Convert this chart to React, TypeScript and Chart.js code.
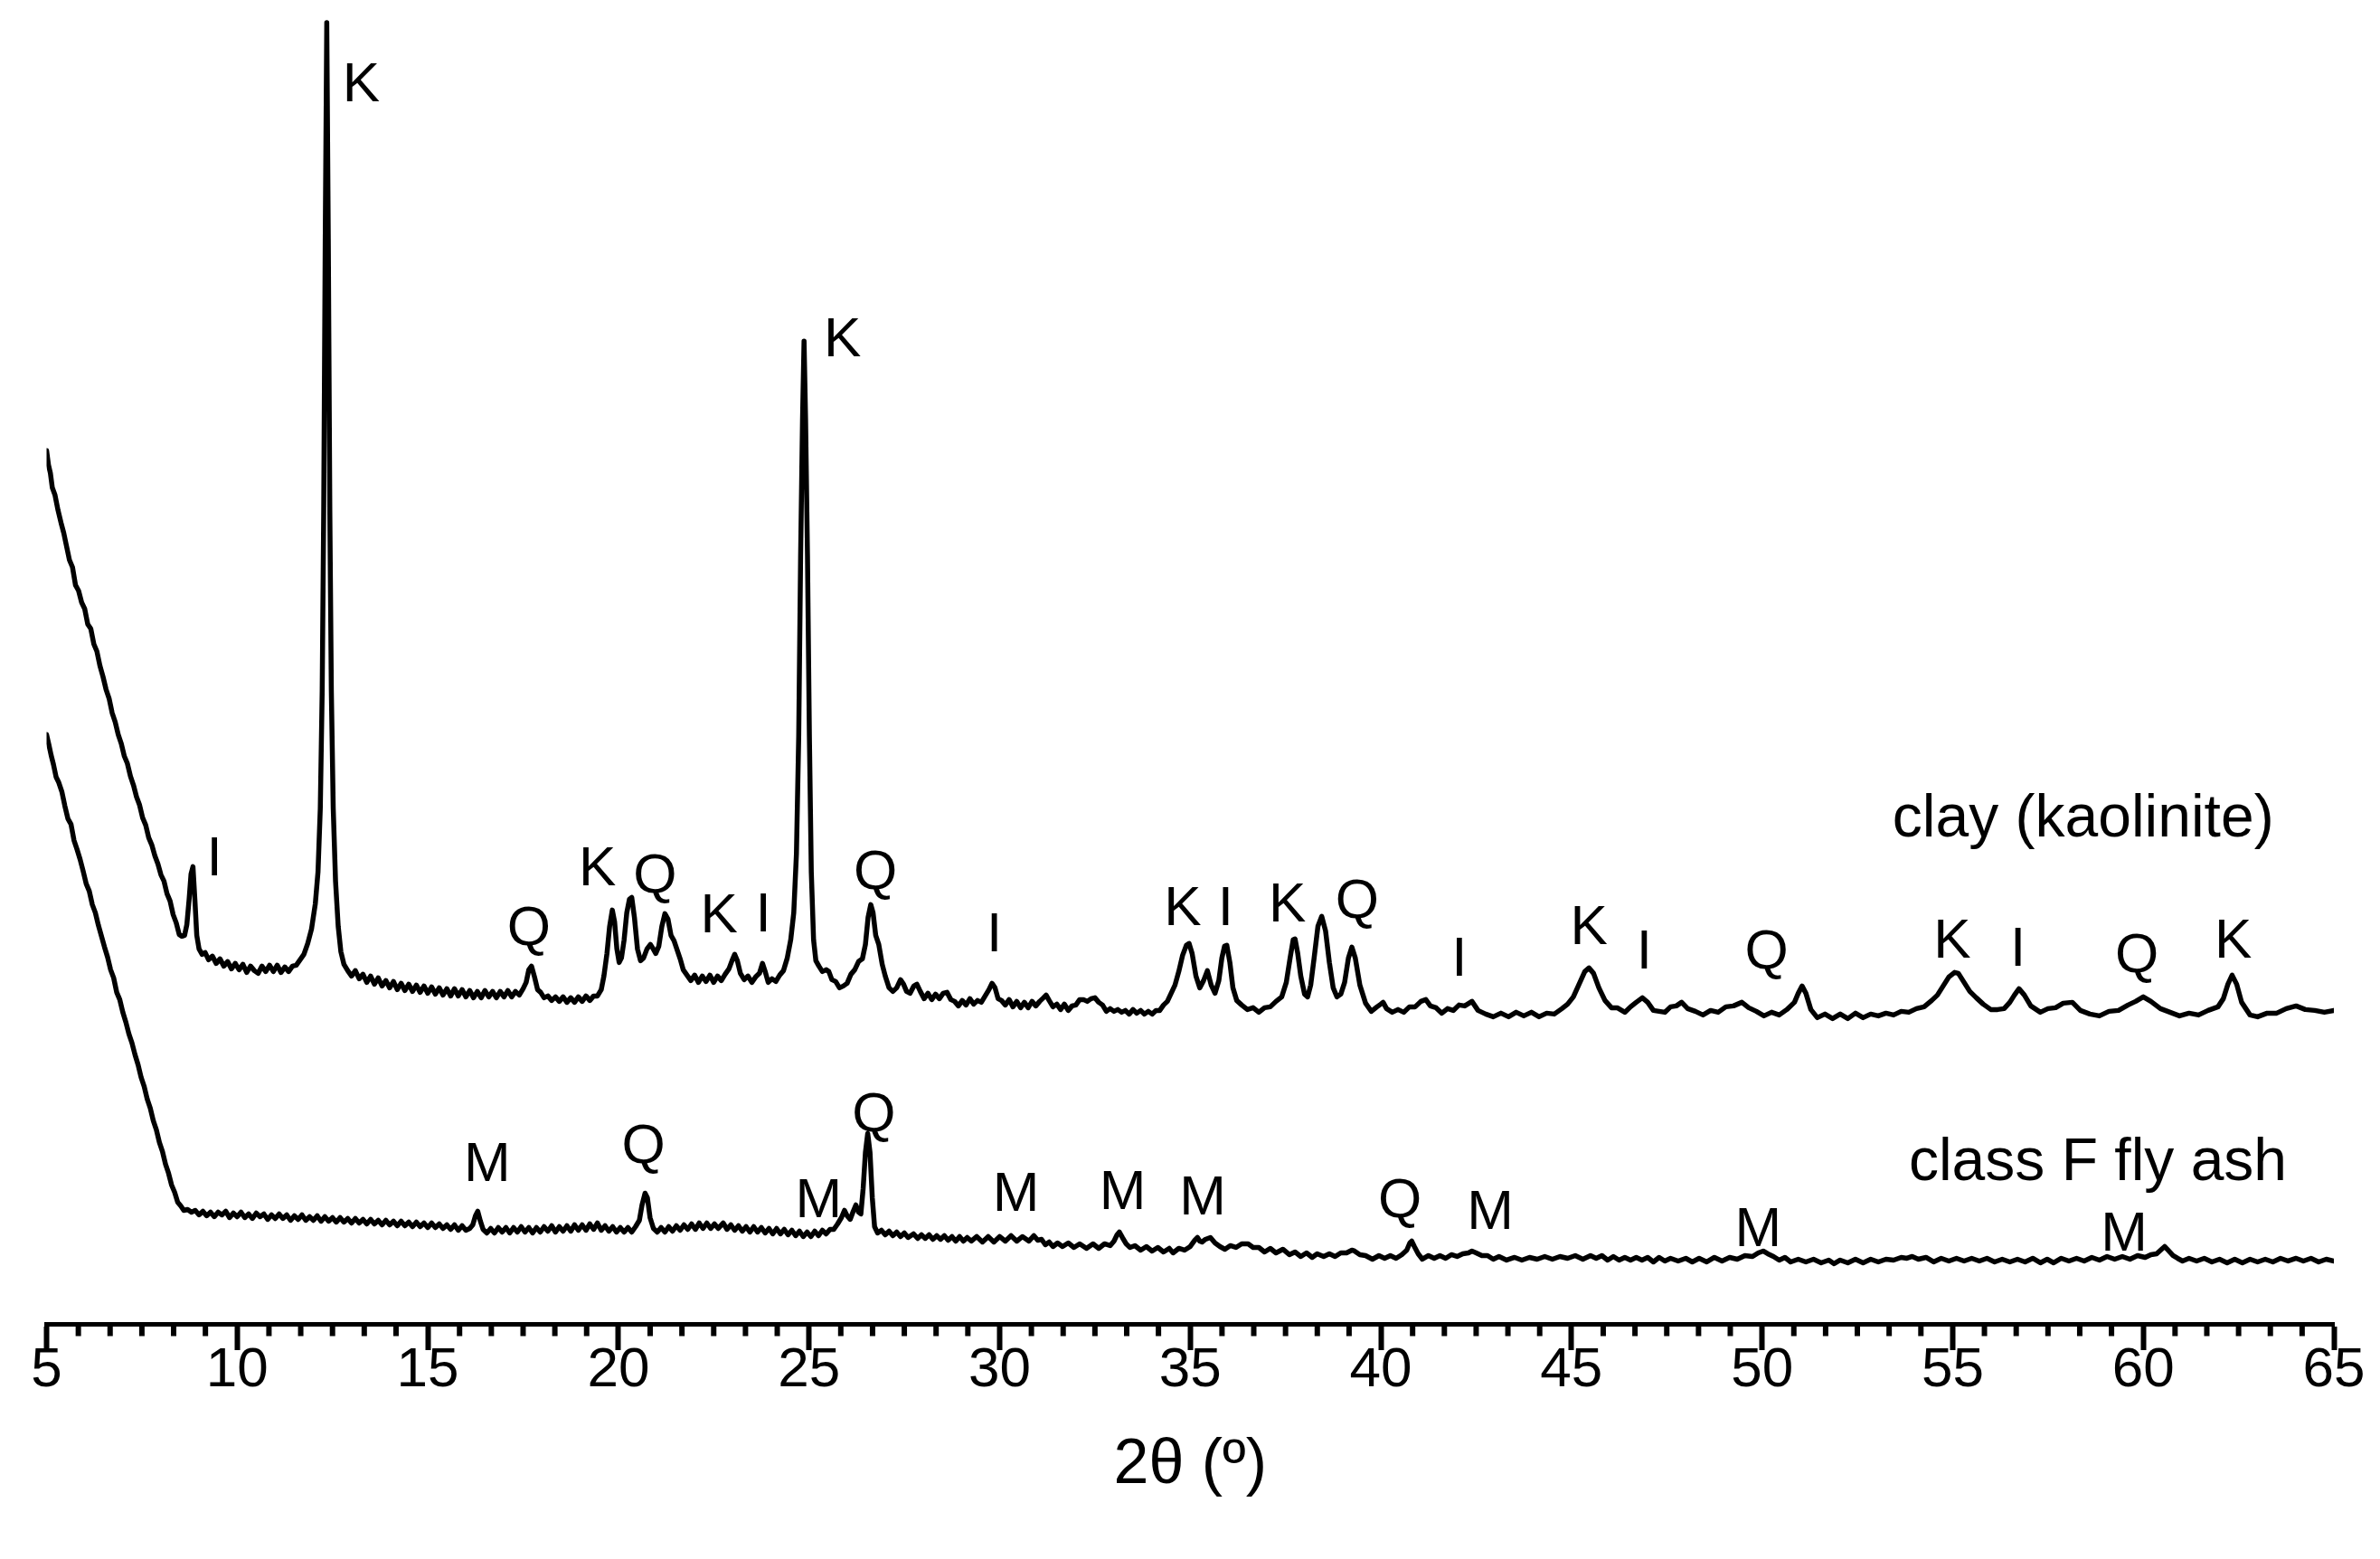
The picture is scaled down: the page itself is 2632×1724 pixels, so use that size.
import React, { useEffect, useRef } from "react";
import { Chart, registerables } from "chart.js";

Chart.register(...registerables);

const FONT = '"Liberation Sans", Arial, Helvetica, sans-serif';
const NARROW_FONT = '"Liberation Sans Narrow", "Arial Narrow", "Liberation Sans", Arial, sans-serif';

// [2θ (deg), intensity (a.u.)]
const clayScan: [number, number][] = [
  [5.0, 966], [5.05, 950], [5.1, 941], [5.15, 925], [5.22, 917], [5.3, 900], [5.38, 886], [5.45, 875],
  [5.52, 861], [5.6, 845], [5.68, 837], [5.76, 817], [5.84, 811], [5.92, 798], [6.0, 791], [6.08, 774],
  [6.16, 769], [6.24, 752], [6.32, 744], [6.4, 728], [6.48, 716], [6.56, 702], [6.64, 692], [6.72, 676],
  [6.8, 666], [6.88, 652], [6.96, 642], [7.04, 628], [7.12, 620], [7.2, 606], [7.28, 596], [7.36, 583],
  [7.44, 574], [7.52, 560], [7.6, 552], [7.68, 538], [7.76, 530], [7.84, 518], [7.92, 509], [8.0, 497],
  [8.08, 490], [8.16, 476], [8.24, 468], [8.32, 453], [8.4, 444], [8.48, 431], [8.55, 429], [8.62, 430],
  [8.68, 442], [8.74, 470], [8.79, 498], [8.84, 506], [8.89, 470], [8.94, 430], [9.0, 415], [9.08, 409],
  [9.16, 411], [9.25, 403], [9.35, 407], [9.45, 399], [9.55, 404], [9.65, 396], [9.75, 401], [9.85, 393],
  [9.95, 399], [10.05, 392], [10.15, 398], [10.25, 389], [10.35, 396], [10.45, 391], [10.55, 388], [10.65, 396],
  [10.75, 390], [10.85, 397], [10.95, 390], [11.05, 397], [11.15, 389], [11.25, 395], [11.35, 390], [11.45, 396],
  [11.55, 397], [11.65, 403], [11.75, 409], [11.85, 421], [11.95, 437], [12.05, 465], [12.12, 500], [12.18, 570],
  [12.23, 700], [12.27, 900], [12.31, 1200], [12.35, 1439], [12.39, 1200], [12.43, 900], [12.47, 700], [12.52, 570],
  [12.58, 490], [12.65, 440], [12.72, 412], [12.8, 398], [12.9, 391], [13.0, 385], [13.1, 391], [13.2, 382],
  [13.3, 387], [13.4, 378], [13.5, 385], [13.6, 376], [13.7, 383], [13.8, 374], [13.9, 380], [14.0, 372],
  [14.1, 379], [14.2, 370], [14.3, 377], [14.4, 369], [14.5, 376], [14.6, 368], [14.7, 375], [14.8, 367],
  [14.9, 374], [15.0, 366], [15.1, 373], [15.2, 365], [15.3, 372], [15.4, 364], [15.5, 371], [15.6, 363],
  [15.7, 371], [15.8, 363], [15.9, 370], [16.0, 362], [16.1, 369], [16.2, 361], [16.3, 368], [16.4, 361],
  [16.5, 369], [16.6, 362], [16.7, 368], [16.8, 361], [16.9, 368], [17.0, 362], [17.1, 369], [17.2, 362],
  [17.3, 368], [17.4, 364], [17.5, 371], [17.58, 378], [17.65, 392], [17.72, 396], [17.8, 384], [17.88, 370],
  [17.96, 367], [18.05, 361], [18.15, 363], [18.25, 358], [18.35, 362], [18.45, 357], [18.55, 362], [18.65, 356],
  [18.75, 361], [18.85, 356], [18.95, 362], [19.05, 357], [19.15, 363], [19.25, 358], [19.35, 363], [19.45, 363],
  [19.55, 370], [19.62, 385], [19.7, 410], [19.77, 440], [19.84, 458], [19.9, 445], [19.96, 415], [20.02, 400],
  [20.08, 405], [20.15, 425], [20.22, 455], [20.29, 470], [20.35, 472], [20.42, 450], [20.5, 415], [20.58, 402],
  [20.66, 405], [20.75, 415], [20.84, 420], [20.9, 416], [20.98, 410], [21.06, 418], [21.14, 440], [21.22, 454],
  [21.3, 448], [21.38, 430], [21.46, 424], [21.54, 414], [21.62, 404], [21.7, 392], [21.8, 386], [21.9, 380],
  [22.0, 386], [22.1, 378], [22.2, 385], [22.3, 379], [22.4, 386], [22.5, 378], [22.6, 385], [22.7, 380],
  [22.8, 387], [22.9, 393], [22.98, 402], [23.05, 409], [23.12, 402], [23.2, 388], [23.3, 381], [23.4, 385],
  [23.5, 378], [23.6, 384], [23.7, 388], [23.78, 399], [23.85, 390], [23.93, 378], [24.03, 382], [24.13, 379],
  [24.23, 386], [24.33, 391], [24.43, 405], [24.52, 425], [24.6, 455], [24.67, 520], [24.73, 650], [24.78, 850],
  [24.83, 1000], [24.87, 1087], [24.91, 1000], [24.96, 850], [25.01, 650], [25.06, 500], [25.12, 425], [25.18, 402],
  [25.26, 396], [25.35, 390], [25.45, 392], [25.52, 390], [25.6, 381], [25.7, 379], [25.8, 372], [25.9, 374],
  [26.0, 377], [26.1, 387], [26.2, 392], [26.3, 401], [26.4, 404], [26.48, 420], [26.55, 450], [26.62, 464],
  [26.68, 455], [26.75, 430], [26.83, 420], [26.92, 398], [27.0, 385], [27.1, 372], [27.2, 368], [27.3, 372],
  [27.4, 381], [27.48, 376], [27.56, 368], [27.65, 366], [27.75, 374], [27.83, 376], [27.92, 368], [28.02, 360],
  [28.12, 366], [28.22, 359], [28.32, 365], [28.42, 360], [28.52, 366], [28.62, 367], [28.72, 359], [28.82, 357],
  [28.92, 352], [29.02, 358], [29.12, 353], [29.22, 360], [29.32, 354], [29.42, 358], [29.52, 356], [29.62, 363],
  [29.72, 370], [29.8, 377], [29.88, 372], [29.96, 360], [30.05, 358], [30.15, 353], [30.25, 359], [30.35, 351],
  [30.45, 357], [30.55, 350], [30.65, 356], [30.75, 350], [30.85, 357], [30.95, 352], [31.05, 357], [31.15, 361],
  [31.22, 364], [31.3, 358], [31.4, 351], [31.5, 354], [31.6, 348], [31.7, 354], [31.8, 347], [31.9, 352],
  [32.0, 353], [32.1, 359], [32.2, 359], [32.3, 357], [32.4, 360], [32.5, 361], [32.6, 356], [32.7, 353],
  [32.8, 346], [32.9, 349], [33.0, 346], [33.1, 348], [33.2, 345], [33.3, 347], [33.4, 343], [33.5, 348],
  [33.6, 344], [33.7, 347], [33.8, 343], [33.9, 346], [34.0, 343], [34.1, 347], [34.2, 347], [34.3, 353],
  [34.4, 357], [34.5, 366], [34.6, 375], [34.7, 390], [34.8, 408], [34.9, 419], [34.97, 421], [35.05, 410],
  [35.15, 385], [35.25, 372], [35.35, 380], [35.45, 391], [35.55, 375], [35.65, 366], [35.75, 380], [35.83, 405],
  [35.9, 418], [35.96, 419], [36.04, 400], [36.12, 372], [36.22, 358], [36.35, 353], [36.5, 348], [36.65, 350],
  [36.8, 345], [36.95, 350], [37.1, 351], [37.25, 357], [37.4, 362], [37.52, 378], [37.62, 405], [37.7, 425],
  [37.75, 426], [37.82, 410], [37.9, 385], [38.0, 365], [38.08, 362], [38.16, 375], [38.25, 405], [38.35, 440],
  [38.45, 451], [38.55, 435], [38.65, 400], [38.75, 372], [38.85, 362], [38.95, 365], [39.05, 378], [39.15, 405],
  [39.24, 417], [39.33, 405], [39.45, 375], [39.6, 355], [39.75, 346], [39.9, 351], [40.0, 354], [40.06, 356],
  [40.15, 349], [40.3, 345], [40.45, 348], [40.6, 345], [40.75, 351], [40.9, 351], [41.05, 357], [41.18, 359],
  [41.3, 352], [41.45, 350], [41.6, 344], [41.75, 349], [41.9, 347], [42.05, 353], [42.2, 352], [42.39, 357],
  [42.55, 347], [42.75, 343], [42.95, 340], [43.15, 344], [43.35, 340], [43.55, 345], [43.75, 341], [43.95, 345],
  [44.15, 340], [44.35, 344], [44.55, 343], [44.75, 349], [44.9, 354], [45.05, 362], [45.2, 376], [45.35, 390],
  [45.46, 394], [45.58, 388], [45.72, 372], [45.88, 358], [46.05, 350], [46.2, 350], [46.4, 345], [46.55, 351],
  [46.7, 356], [46.86, 361], [47.0, 356], [47.15, 347], [47.3, 346], [47.45, 345], [47.6, 351], [47.75, 352],
  [47.89, 356], [48.05, 349], [48.25, 346], [48.45, 342], [48.65, 347], [48.85, 345], [49.05, 351], [49.25, 352],
  [49.47, 356], [49.65, 350], [49.85, 346], [50.05, 341], [50.25, 345], [50.45, 342], [50.65, 348], [50.85, 356],
  [50.95, 366], [51.05, 374], [51.15, 366], [51.28, 348], [51.45, 339], [51.65, 343], [51.85, 338], [52.05, 343],
  [52.25, 338], [52.45, 344], [52.65, 339], [52.85, 343], [53.05, 341], [53.25, 344], [53.45, 342], [53.65, 346],
  [53.85, 345], [54.05, 349], [54.25, 351], [54.45, 358], [54.6, 364], [54.75, 374], [54.9, 384], [55.05, 389],
  [55.15, 388], [55.3, 378], [55.45, 368], [55.62, 361], [55.8, 354], [56.0, 348], [56.18, 348], [56.35, 349],
  [56.5, 356], [56.62, 364], [56.74, 371], [56.88, 364], [57.05, 352], [57.3, 345], [57.5, 349], [57.7, 350],
  [57.9, 355], [58.14, 356], [58.35, 347], [58.6, 343], [58.85, 341], [59.1, 346], [59.35, 347], [59.6, 353],
  [59.8, 357], [60.0, 362], [60.2, 357], [60.45, 349], [60.7, 345], [60.95, 341], [61.2, 344], [61.45, 342],
  [61.7, 347], [61.96, 351], [62.1, 360], [62.22, 376], [62.33, 386], [62.45, 376], [62.58, 356], [62.8, 342],
  [63.0, 340], [63.25, 344], [63.5, 344], [63.75, 349], [64.01, 352], [64.25, 348], [64.5, 347], [64.75, 345],
  [65.0, 347],
];

const flyAshScan: [number, number][] = [
  [5.0, 652], [5.06, 641], [5.12, 629], [5.18, 619], [5.25, 605], [5.32, 599], [5.4, 589], [5.48, 573],
  [5.56, 559], [5.64, 553], [5.72, 535], [5.8, 525], [5.88, 514], [5.96, 501], [6.04, 487], [6.12, 479],
  [6.2, 464], [6.28, 455], [6.36, 441], [6.44, 429], [6.52, 417], [6.6, 406], [6.68, 392], [6.76, 383],
  [6.84, 367], [6.92, 359], [7.0, 345], [7.08, 334], [7.16, 321], [7.24, 311], [7.32, 298], [7.4, 287],
  [7.48, 273], [7.56, 263], [7.64, 249], [7.72, 239], [7.8, 225], [7.88, 215], [7.96, 201], [8.04, 191],
  [8.12, 177], [8.2, 167], [8.28, 154], [8.36, 146], [8.44, 135], [8.52, 131], [8.6, 126], [8.7, 127],
  [8.8, 124], [8.9, 126], [9.0, 121], [9.1, 125], [9.2, 120], [9.3, 124], [9.4, 119], [9.5, 124],
  [9.6, 121], [9.7, 125], [9.8, 118], [9.9, 123], [10.0, 119], [10.1, 124], [10.2, 118], [10.3, 122],
  [10.4, 117], [10.5, 123], [10.6, 119], [10.7, 122], [10.8, 116], [10.9, 121], [11.0, 117], [11.1, 122],
  [11.2, 117], [11.3, 121], [11.4, 115], [11.5, 120], [11.6, 116], [11.7, 121], [11.8, 115], [11.9, 119],
  [12.0, 115], [12.1, 120], [12.2, 114], [12.3, 119], [12.4, 114], [12.5, 118], [12.6, 113], [12.7, 118],
  [12.8, 113], [12.9, 117], [13.0, 112], [13.1, 117], [13.2, 112], [13.3, 116], [13.4, 111], [13.5, 116],
  [13.6, 111], [13.7, 115], [13.8, 110], [13.9, 115], [14.0, 110], [14.1, 114], [14.2, 109], [14.3, 114],
  [14.4, 109], [14.5, 113], [14.6, 108], [14.7, 113], [14.8, 108], [14.9, 112], [15.0, 107], [15.1, 112],
  [15.2, 107], [15.3, 111], [15.4, 106], [15.5, 110], [15.6, 105], [15.7, 110], [15.8, 104], [15.9, 109],
  [16.0, 104], [16.1, 106], [16.18, 110], [16.25, 120], [16.31, 125], [16.38, 114], [16.45, 105], [16.55, 101],
  [16.65, 106], [16.75, 101], [16.85, 107], [16.95, 102], [17.05, 107], [17.15, 101], [17.25, 107], [17.35, 102],
  [17.45, 108], [17.55, 102], [17.65, 107], [17.75, 101], [17.85, 107], [17.95, 102], [18.05, 108], [18.15, 103],
  [18.25, 109], [18.35, 102], [18.45, 108], [18.55, 103], [18.65, 109], [18.75, 103], [18.85, 110], [18.95, 104],
  [19.05, 110], [19.15, 104], [19.25, 111], [19.35, 105], [19.45, 112], [19.55, 104], [19.65, 109], [19.75, 103],
  [19.85, 108], [19.95, 102], [20.05, 107], [20.15, 102], [20.25, 107], [20.35, 102], [20.45, 108], [20.55, 115],
  [20.62, 132], [20.7, 145], [20.76, 140], [20.83, 118], [20.92, 106], [21.02, 102], [21.12, 107], [21.22, 102],
  [21.32, 108], [21.42, 103], [21.52, 109], [21.62, 104], [21.72, 110], [21.82, 105], [21.92, 111], [22.02, 105],
  [22.12, 112], [22.22, 106], [22.32, 112], [22.42, 106], [22.52, 111], [22.62, 106], [22.75, 112], [22.85, 105],
  [22.95, 110], [23.05, 104], [23.15, 109], [23.25, 103], [23.35, 108], [23.45, 102], [23.55, 108], [23.65, 102],
  [23.75, 107], [23.85, 101], [23.95, 106], [24.05, 100], [24.15, 106], [24.25, 100], [24.35, 105], [24.45, 99],
  [24.55, 104], [24.65, 98], [24.75, 103], [24.85, 97], [24.95, 102], [25.05, 97], [25.15, 103], [25.25, 98],
  [25.35, 104], [25.45, 100], [25.55, 105], [25.65, 105], [25.75, 111], [25.85, 118], [25.93, 126], [26.0, 120],
  [26.08, 116], [26.16, 125], [26.23, 132], [26.3, 124], [26.36, 122], [26.42, 150], [26.48, 190], [26.54, 211],
  [26.6, 190], [26.66, 140], [26.72, 108], [26.8, 101], [26.9, 104], [27.0, 99], [27.1, 103], [27.2, 98],
  [27.3, 102], [27.4, 97], [27.5, 101], [27.6, 96], [27.74, 100], [27.85, 95], [27.95, 99], [28.05, 95],
  [28.15, 99], [28.25, 94], [28.35, 98], [28.45, 94], [28.55, 98], [28.65, 93], [28.75, 97], [28.85, 92],
  [28.95, 97], [29.05, 92], [29.15, 96], [29.26, 92], [29.4, 97], [29.55, 91], [29.7, 97], [29.85, 91],
  [30.0, 97], [30.15, 92], [30.3, 98], [30.45, 92], [30.6, 97], [30.77, 92], [30.9, 98], [31.0, 93],
  [31.1, 94], [31.2, 88], [31.3, 91], [31.4, 86], [31.52, 90], [31.65, 86], [31.8, 90], [31.95, 85],
  [32.1, 89], [32.28, 84], [32.45, 89], [32.6, 84], [32.75, 89], [32.9, 87], [33.0, 92], [33.08, 99],
  [33.14, 102], [33.22, 96], [33.32, 89], [33.42, 85], [33.55, 87], [33.7, 82], [33.85, 86], [34.0, 81],
  [34.15, 85], [34.3, 80], [34.45, 84], [34.55, 79], [34.7, 84], [34.85, 82], [35.0, 86], [35.12, 93],
  [35.19, 96], [35.25, 92], [35.31, 91], [35.4, 94], [35.53, 96], [35.65, 90], [35.78, 86], [35.91, 83],
  [36.05, 87], [36.2, 85], [36.35, 89], [36.52, 89], [36.65, 85], [36.8, 85], [36.95, 80], [37.1, 84],
  [37.25, 79], [37.43, 83], [37.6, 77], [37.75, 80], [37.9, 75], [38.05, 79], [38.2, 74], [38.33, 78],
  [38.5, 75], [38.65, 78], [38.8, 75], [38.95, 79], [39.1, 79], [39.24, 82], [39.31, 81], [39.45, 77],
  [39.6, 76], [39.78, 72], [39.95, 76], [40.1, 73], [40.25, 76], [40.4, 73], [40.55, 77], [40.68, 82],
  [40.76, 90], [40.81, 92], [40.88, 86], [40.98, 78], [41.09, 72], [41.25, 76], [41.4, 73], [41.55, 76],
  [41.7, 73], [41.85, 77], [42.0, 75], [42.15, 78], [42.3, 79], [42.39, 81], [42.5, 79], [42.65, 76],
  [42.8, 76], [42.95, 72], [43.1, 75], [43.3, 71], [43.51, 74], [43.7, 71], [43.9, 74], [44.1, 72],
  [44.3, 75], [44.5, 72], [44.7, 75], [44.9, 73], [45.1, 76], [45.3, 72], [45.5, 76], [45.65, 73],
  [45.8, 76], [45.95, 71], [46.1, 75], [46.25, 71], [46.4, 74], [46.55, 71], [46.7, 74], [46.85, 71],
  [47.0, 74], [47.15, 69], [47.3, 74], [47.45, 70], [47.6, 73], [47.8, 70], [48.0, 73], [48.17, 69],
  [48.35, 73], [48.55, 69], [48.75, 74], [48.95, 70], [49.15, 74], [49.35, 72], [49.55, 76], [49.75, 75],
  [49.9, 79], [50.03, 81], [50.15, 78], [50.3, 75], [50.45, 71], [50.6, 74], [50.75, 69], [50.95, 72],
  [51.15, 69], [51.35, 72], [51.55, 68], [51.75, 71], [51.89, 67], [52.05, 71], [52.25, 68], [52.45, 72],
  [52.65, 68], [52.85, 72], [53.05, 69], [53.25, 72], [53.45, 71], [53.65, 74], [53.8, 73], [53.94, 75],
  [54.1, 72], [54.3, 74], [54.5, 69], [54.7, 73], [54.9, 70], [55.1, 73], [55.3, 70], [55.5, 73],
  [55.7, 70], [55.9, 73], [56.1, 69], [56.3, 72], [56.5, 69], [56.7, 72], [56.9, 69], [57.1, 73],
  [57.3, 68], [57.48, 72], [57.65, 68], [57.85, 73], [58.05, 70], [58.25, 73], [58.45, 70], [58.65, 74],
  [58.85, 71], [59.05, 75], [59.25, 72], [59.45, 75], [59.65, 72], [59.85, 76], [60.05, 74], [60.2, 77],
  [60.35, 78], [60.48, 83], [60.56, 86], [60.65, 82], [60.78, 76], [60.9, 73], [61.03, 70], [61.2, 73],
  [61.4, 70], [61.6, 73], [61.8, 69], [62.0, 72], [62.2, 68], [62.4, 72], [62.6, 68], [62.8, 72],
  [63.0, 69], [63.2, 72], [63.4, 69], [63.6, 73], [63.8, 70], [64.01, 73], [64.2, 70], [64.4, 73],
  [64.6, 69], [64.8, 72], [65.0, 70],
];

// phase markers: [2θ, intensity, label]
const clayPhaseLabels: [number, number, string][] = [
  [9.4, 513, "I"], [13.25, 1369, "K"], [17.65, 436, "Q"], [19.45, 502, "K"], [20.96, 494, "Q"],
  [22.64, 450, "K"], [23.8, 451, "I"], [25.88, 1087, "K"], [26.74, 498, "Q"], [29.86, 429, "I"],
  [34.8, 458, "K"], [35.93, 458, "I"], [37.55, 462, "K"], [39.38, 466, "Q"], [42.06, 402, "I"],
  [45.46, 437, "K"], [46.91, 410, "I"], [50.12, 410, "Q"], [54.99, 422, "K"], [56.71, 413, "I"],
  [59.83, 406, "Q"], [62.36, 422, "K"],
];

const flyAshPhaseLabels: [number, number, string][] = [
  [16.56, 176, "M"], [20.66, 196, "Q"], [25.25, 136, "M"], [26.7, 231, "Q"], [30.43, 143, "M"],
  [33.23, 145, "M"], [35.33, 139, "M"], [40.5, 136, "Q"], [42.87, 123, "M"], [49.9, 104, "M"],
  [59.5, 99, "M"],
];

const sampleNames: [number, number, string][] = [
  [53.42, 539, "clay (kaolinite)"],
  [53.85, 159, "class F fly ash"],
];

const xMin = 5;
const xMax = 65;
const majorStep = 5;
const minorPerMajor = 6;

const overlayPlugin = {
  id: "xrdOverlay",
  afterDraw(chart: any) {
    const { ctx, scales } = chart;
    const x = scales.x;
    const y = scales.y;
    ctx.save();
    // minor ticks
    ctx.strokeStyle = "#000";
    ctx.lineWidth = 6;
    const nMinor = ((xMax - xMin) / majorStep) * minorPerMajor;
    for (let k = 1; k < nMinor; k++) {
      if (k % minorPerMajor === 0) continue;
      const px = x.getPixelForValue(xMin + (k * majorStep) / minorPerMajor);
      ctx.beginPath();
      ctx.moveTo(px, x.top);
      ctx.lineTo(px, x.top + 13);
      ctx.stroke();
    }
    // phase letters
    ctx.fillStyle = "#000";
    ctx.font = `62px ${FONT}`;
    ctx.textAlign = "center";
    ctx.textBaseline = "middle";
    for (const [t, v, s] of [...clayPhaseLabels, ...flyAshPhaseLabels]) {
      ctx.fillText(s, x.getPixelForValue(t), y.getPixelForValue(v));
    }
    // sample names
    ctx.font = `66px ${FONT}`;
    ctx.textAlign = "left";
    ctx.textBaseline = "alphabetic";
    for (const [t, v, s] of sampleNames) {
      ctx.fillText(s, x.getPixelForValue(t), y.getPixelForValue(v));
    }
    ctx.restore();
  },
};

export default function App() {
  const canvasRef = useRef<HTMLCanvasElement | null>(null);

  useEffect(() => {
    if (!canvasRef.current) return;
    const lineStyle = {
      borderColor: "#000",
      borderWidth: 5.5,
      pointRadius: 0,
      borderJoinStyle: "round" as const,
      borderCapStyle: "round" as const,
      fill: false,
      tension: 0,
    };
    const chart = new Chart(canvasRef.current, {
      type: "line",
      data: {
        datasets: [
          { label: "clay (kaolinite)", data: clayScan.map(([a, b]) => ({ x: a, y: b })), ...lineStyle },
          { label: "class F fly ash", data: flyAshScan.map(([a, b]) => ({ x: a, y: b })), ...lineStyle },
        ],
      },
      options: {
        animation: false,
        responsive: true,
        maintainAspectRatio: false,
        layout: { padding: { left: 51.5, right: 51, top: 0, bottom: 0 } },
        plugins: { legend: { display: false }, tooltip: { enabled: false } },
        scales: {
          x: {
            type: "linear",
            position: "bottom",
            min: xMin,
            max: xMax,
            afterFit: (scale: any) => {
              scale.height = 259.5;
            },
            ticks: {
              stepSize: majorStep,
              autoSkip: false,
              maxRotation: 0,
              color: "#000",
              padding: -14,
              font: { size: 62, family: NARROW_FONT },
            },
            grid: {
              drawOnChartArea: false,
              drawTicks: true,
              tickLength: 28.5,
              tickWidth: 6,
              tickColor: "#000",
            },
            border: { display: true, width: 5, color: "#000" },
            title: {
              display: true,
              text: "2θ (º)",
              color: "#000",
              font: { size: 70, family: FONT },
              padding: { top: 20, bottom: 61 },
            },
          },
          y: { display: false, min: 0, max: 1464 },
        },
      },
      plugins: [overlayPlugin],
    });
    return () => chart.destroy();
  }, []);

  return (
    <div style={{ position: "fixed", left: 0, top: 0, width: "2632px", height: "1724px", background: "#fff" }}>
      <canvas ref={canvasRef} />
    </div>
  );
}
